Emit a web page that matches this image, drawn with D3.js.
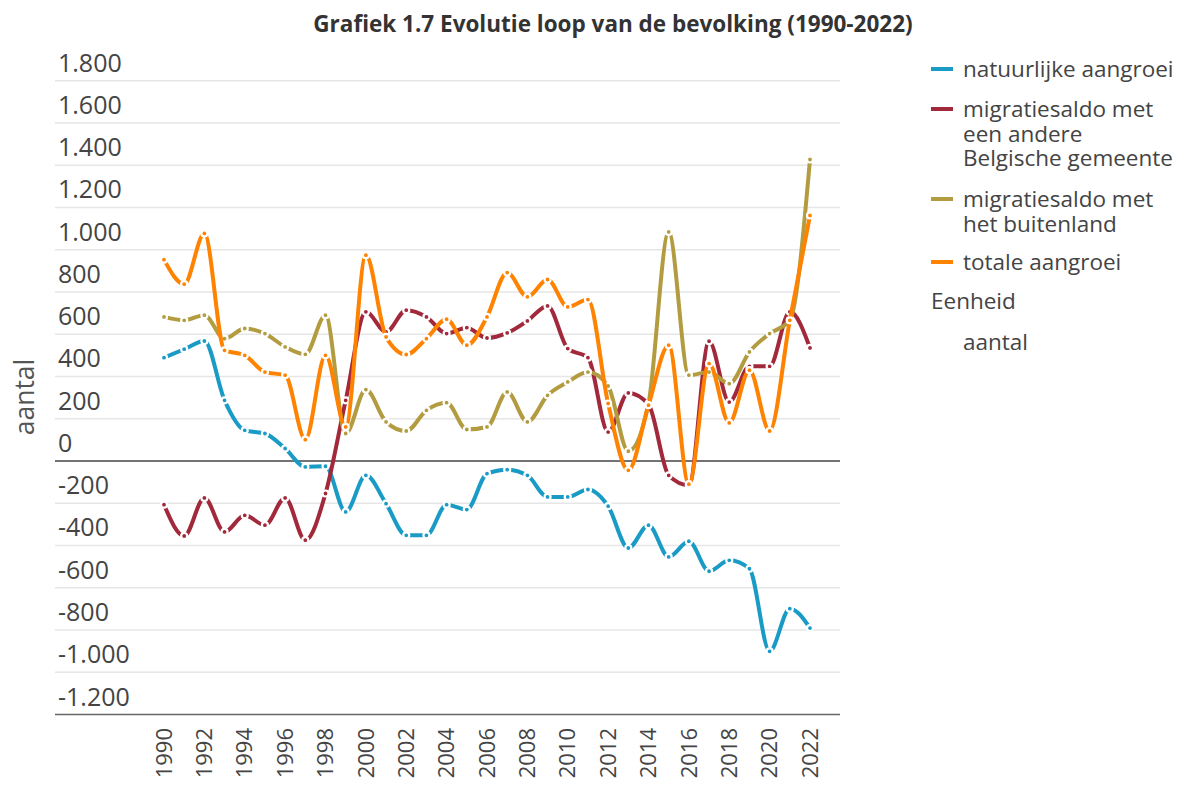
<!DOCTYPE html>
<html>
<head>
<meta charset="utf-8">
<script src="https://cdn.jsdelivr.net/npm/d3@7"></script>
<style>
  body { margin: 0; background: #fff; }
  text { font-family: "Open Sans", Lato, sans-serif; fill: #444; }
</style>
</head>
<body>
<div id="chart"></div>
<script>
// years and series values
const years = d3.range(1990, 2023);

const natuurlijk = [489, 529, 568, 287, 145, 130, 59, -28, -25, -241, -68,
  -202, -352, -352, -207, -230, -60, -41, -68, -170, -170,
  -135, -214, -412, -304, -454, -380, -522, -470, -510, -901, -699, -791];

const migBelgie = [-207, -355, -175, -336, -257, -304, -175, -375, -154, 287, 706,
  611, 714, 682, 603, 631, 582, 606, 663, 734, 532,
  489, 137, 322, 268, -68, -115, 567, 279, 448, 448, 706, 535];

const migBuitenland = [682, 666, 690, 579, 627, 603, 540, 505, 690, 130, 338,
  185, 142, 240, 276, 149, 161, 327, 185, 311, 374,
  421, 355, 46, 272, 1084, 406, 421, 366, 516, 603, 666, 1427];

const totaal = [953, 837, 1077, 524, 500, 421, 406, 101, 500, 161, 974,
  587, 504, 579, 671, 548, 682, 892, 777, 859, 729,
  764, 272, -44, 264, 548, -110, 461, 180, 430, 142, 666, 1162];

const yTicks = d3.range(-1200, 1801, 200);
const xTicks = d3.range(1990, 2023, 2);

const seriesNames = ["natuurlijke aangroei", "migratiesaldo met een andere Belgische gemeente",
  "migratiesaldo met het buitenland", "totale aangroei"];
const seriesColors = ["#1a9bc6", "#a2293b", "#b39c40", "#ff8200"];
const legendLines = [["natuurlijke aangroei"], ["migratiesaldo met", "een andere", "Belgische gemeente"],
  ["migratiesaldo met", "het buitenland"], ["totale aangroei"]];

const series = [natuurlijk, migBelgie, migBuitenland, totaal].map((vals, i) => ({
  name: seriesNames[i],
  color: seriesColors[i],
  values: vals.map((v, j) => ({ year: years[j], value: v }))
}));

const width = 1177, height = 787;
const svg = d3.select("#chart").append("svg")
  .attr("width", width)
  .attr("height", height);

// scales
const x = d3.scaleLinear().domain([1990, 2022]).range([164, 810]);
const y = d3.scaleLinear().domain([-1200, 1800]).range([714.5, 80.7]);

// title
svg.append("text")
  .attr("x", 613).attr("y", 32)
  .attr("text-anchor", "middle")
  .style("font-weight", "bold")
  .style("font-size", "22.5px")
  .style("fill", "#333")
  .text("Grafiek 1.7 Evolutie loop van de bevolking (1990-2022)");

// gridlines
svg.append("g").selectAll("line")
  .data(yTicks.filter(d => d !== 0 && d !== -1200))
  .enter().append("line")
  .attr("x1", 55).attr("x2", 840)
  .attr("y1", d => y(d)).attr("y2", d => y(d))
  .attr("stroke", "#e6e6e6")
  .attr("stroke-width", 1.5);

// y tick labels sit above their gridline
svg.append("g").selectAll("text")
  .data(yTicks)
  .enter().append("text")
  .attr("x", 58)
  .attr("y", d => y(d) - 9)
  .style("font-size", "25px")
  .text(d => d3.format(",")(d).replace(/,/g, ".").replace("−", "-"));

// zero line and bottom axis line
svg.append("line")
  .attr("x1", 55).attr("x2", 840)
  .attr("y1", y(0)).attr("y2", y(0))
  .attr("stroke", "#444").attr("stroke-width", 1.5);

svg.append("line")
  .attr("x1", 55).attr("x2", 840)
  .attr("y1", y(-1200)).attr("y2", y(-1200))
  .attr("stroke", "#666").attr("stroke-width", 1.5);

// x tick labels, rotated
svg.append("g").selectAll("text")
  .data(xTicks)
  .enter().append("text")
  .attr("transform", d => `translate(${x(d)},728) rotate(-90)`)
  .attr("text-anchor", "end")
  .attr("dy", "0.35em")
  .style("font-size", "22px")
  .text(d => d);

// y axis title
svg.append("text")
  .attr("transform", "translate(25,397) rotate(-90)")
  .attr("text-anchor", "middle")
  .attr("dy", "0.35em")
  .style("font-size", "26.5px")
  .style("fill", "#555")
  .text("aantal");

// lines
const line = d3.line()
  .x(d => x(d.year))
  .y(d => y(d.value))
  .curve(d3.curveMonotoneX);

const lineGroup = svg.append("g");
series.forEach(s => {
  const g = lineGroup.append("g");
  g.append("path")
    .datum(s.values)
    .attr("d", line)
    .attr("fill", "none")
    .attr("stroke", s.color)
    .attr("stroke-width", 4)
    .attr("stroke-linejoin", "round");
  g.selectAll("circle")
    .data(s.values)
    .enter().append("circle")
    .attr("cx", d => x(d.year))
    .attr("cy", d => y(d.value))
    .attr("r", 3)
    .attr("fill", s.color)
    .attr("stroke", "#fff")
    .attr("stroke-width", 2.2);
});

// legend, wrapped labels as tspans in one text
const legendTops = [77, 117, 207, 270];
const legend = svg.append("g");
series.forEach((s, i) => {
  legend.append("line")
    .attr("x1", 931).attr("x2", 953)
    .attr("y1", legendTops[i] - 8).attr("y2", legendTops[i] - 8)
    .attr("stroke", s.color)
    .attr("stroke-width", 4);
  const txt = legend.append("text")
    .attr("x", 963)
    .attr("y", legendTops[i])
    .style("font-size", "22.5px");
  legendLines[i].forEach((t, k) => {
    txt.append("tspan")
      .attr("x", 963)
      .attr("y", legendTops[i] + k * 24.5)
      .text(t);
  });
});

legend.append("text")
  .attr("x", 931).attr("y", 309)
  .style("font-size", "22.5px")
  .text("Eenheid");

legend.append("text")
  .attr("x", 963).attr("y", 350)
  .style("font-size", "22.5px")
  .text("aantal");
</script>
</body>
</html>
